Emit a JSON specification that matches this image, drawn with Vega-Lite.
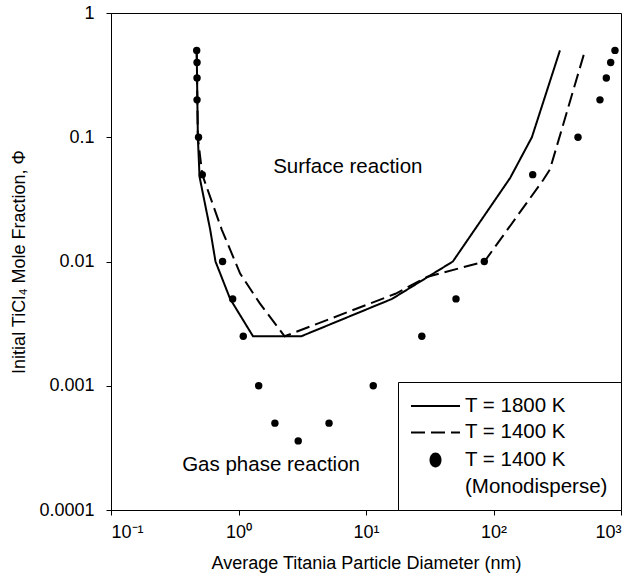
{
  "$schema": "https://vega.github.io/schema/vega-lite/v6.json",
  "width": 510,
  "height": 497,
  "autosize": {"type": "none"},
  "padding": {"left": 111, "top": 13, "right": 17, "bottom": 69},
  "background": "white",
  "config": {
    "font": "Liberation Sans",
    "view": {"stroke": "black", "strokeWidth": 1},
    "axis": {
      "grid": false,
      "domainColor": "black",
      "tickColor": "black",
      "labelColor": "black",
      "titleColor": "black",
      "labelFontSize": 18,
      "titleFontSize": 18,
      "titleFontWeight": "normal",
      "tickSize": 5
    }
  },
  "datasets": {
    "curves": [
      {"series": "a", "d": 0.47, "phi": 0.5},
      {"series": "a", "d": 0.48, "phi": 0.1},
      {"series": "a", "d": 0.495, "phi": 0.048},
      {"series": "a", "d": 0.6, "phi": 0.018},
      {"series": "a", "d": 0.66, "phi": 0.01},
      {"series": "a", "d": 0.86, "phi": 0.005},
      {"series": "a", "d": 1.3, "phi": 0.0025},
      {"series": "a", "d": 3.1, "phi": 0.0025},
      {"series": "a", "d": 16, "phi": 0.005},
      {"series": "a", "d": 48, "phi": 0.01},
      {"series": "a", "d": 135, "phi": 0.047},
      {"series": "a", "d": 200, "phi": 0.1},
      {"series": "a", "d": 332, "phi": 0.5},
      {"series": "b", "d": 0.47, "phi": 0.5},
      {"series": "b", "d": 0.48, "phi": 0.1},
      {"series": "b", "d": 0.52, "phi": 0.05},
      {"series": "b", "d": 0.74, "phi": 0.018},
      {"series": "b", "d": 1.03, "phi": 0.008},
      {"series": "b", "d": 1.47, "phi": 0.0046},
      {"series": "b", "d": 2.3, "phi": 0.0025},
      {"series": "b", "d": 17, "phi": 0.0055},
      {"series": "b", "d": 30, "phi": 0.0075},
      {"series": "b", "d": 85, "phi": 0.01},
      {"series": "b", "d": 246, "phi": 0.0455},
      {"series": "b", "d": 277, "phi": 0.055},
      {"series": "b", "d": 510, "phi": 0.46}
    ],
    "dots": [
      {"series": "c", "d": 0.47, "phi": 0.5},
      {"series": "c", "d": 0.473, "phi": 0.4},
      {"series": "c", "d": 0.473, "phi": 0.3},
      {"series": "c", "d": 0.473, "phi": 0.2},
      {"series": "c", "d": 0.486, "phi": 0.1},
      {"series": "c", "d": 0.52, "phi": 0.05},
      {"series": "c", "d": 0.75, "phi": 0.01},
      {"series": "c", "d": 0.9, "phi": 0.005},
      {"series": "c", "d": 1.09, "phi": 0.0025},
      {"series": "c", "d": 1.44, "phi": 0.001},
      {"series": "c", "d": 1.93, "phi": 0.0005},
      {"series": "c", "d": 2.94, "phi": 0.00036},
      {"series": "c", "d": 5.13, "phi": 0.0005},
      {"series": "c", "d": 11.4, "phi": 0.001},
      {"series": "c", "d": 27.4, "phi": 0.0025},
      {"series": "c", "d": 50.8, "phi": 0.005},
      {"series": "c", "d": 84.7, "phi": 0.01},
      {"series": "c", "d": 203, "phi": 0.05},
      {"series": "c", "d": 460, "phi": 0.1},
      {"series": "c", "d": 684, "phi": 0.2},
      {"series": "c", "d": 767, "phi": 0.3},
      {"series": "c", "d": 830, "phi": 0.4},
      {"series": "c", "d": 897, "phi": 0.5}
    ],
    "notes": [
      {"label": "Surface reaction", "d": 7.2, "phi": 0.058},
      {"label": "Gas phase reaction", "d": 1.8, "phi": 0.00023}
    ]
  },
  "layer": [
    {
      "data": {"name": "curves"},
      "mark": {"type": "line", "color": "black", "strokeWidth": 2},
      "encoding": {
        "x": {
          "field": "d", "type": "quantitative",
          "scale": {"type": "log", "domain": [0.1, 1000]},
          "axis": {
            "values": [0.1, 1, 10, 100, 1000],
            "title": "Average Titania Particle Diameter (nm)",
            "labelExpr": "datum.value < 0.5 ? '10⁻¹' : datum.value < 5 ? '10⁰' : datum.value < 50 ? '10¹' : datum.value < 500 ? '10²' : '10³'",
            "labelPadding": 8,
            "titlePadding": 13
          }
        },
        "y": {
          "field": "phi", "type": "quantitative",
          "scale": {"type": "log", "domain": [0.0001, 1]},
          "axis": {
            "values": [0.0001, 0.001, 0.01, 0.1, 1],
            "format": "~g",
            "title": "Initial TiCl₄ Mole Fraction, Φ",
            "labelPadding": 12,
            "titlePadding": 10
          }
        },
        "strokeDash": {
          "field": "series", "type": "nominal",
          "scale": {"domain": ["a", "b", "c"], "range": [[1, 0], [14, 6], [1, 0]]},
          "legend": {
            "title": null,
            "orient": "bottom-right",
            "offset": 0,
            "strokeColor": "black",
            "fillColor": "white",
            "padding": 13,
            "symbolType": "stroke",
            "symbolSize": 400,
            "symbolStrokeWidth": 2,
            "symbolStrokeColor": "black",
            "labelFontSize": 20.5,
            "labelColor": "black",
            "labelLimit": 0,
            "labelOffset": 32,
            "rowPadding": 5.5,
            "labelExpr": "datum.value === 'a' ? 'T = 1800 K' : datum.value === 'b' ? 'T = 1400 K' : ['T = 1400 K', '(Monodisperse)']",
            "encode": {
              "symbols": {
                "update": {
                  "shape": {"signal": "datum.value === 'c' ? 'M 0.75,0 A 0.6,0.74 0 1,1 1.95,0 A 0.6,0.74 0 1,1 0.75,0 Z' : 'M -1.1,0 H 3.8'"},
                  "fill": {"signal": "datum.value === 'c' ? 'black' : 'transparent'"},
                  "stroke": {"signal": "datum.value === 'c' ? 'transparent' : 'black'"},
                  "strokeOpacity": {"value": 1},
                  "opacity": {"value": 1},
                  "strokeDash": {"signal": "datum.value === 'b' ? [31, 5, 13, 100] : [1, 0]"},
                  "strokeWidth": {"value": 2}
                }
              },
              "labels": {
                "update": {
                  "baseline": {"value": "top"},
                  "dy": {"value": -10.5},
                  "lineHeight": {"value": 27}
                }
              }
            }
          }
        },
        "detail": {"field": "series"}
      }
    },
    {
      "data": {"name": "dots"},
      "mark": {"type": "circle", "color": "black", "opacity": 1, "size": 55},
      "encoding": {
        "x": {"field": "d", "type": "quantitative"},
        "y": {"field": "phi", "type": "quantitative"}
      }
    },
    {
      "data": {"name": "notes"},
      "mark": {"type": "text", "fontSize": 20.5, "color": "black", "font": "Liberation Sans"},
      "encoding": {
        "x": {"field": "d", "type": "quantitative"},
        "y": {"field": "phi", "type": "quantitative"},
        "text": {"field": "label"}
      }
    }
  ]
}
